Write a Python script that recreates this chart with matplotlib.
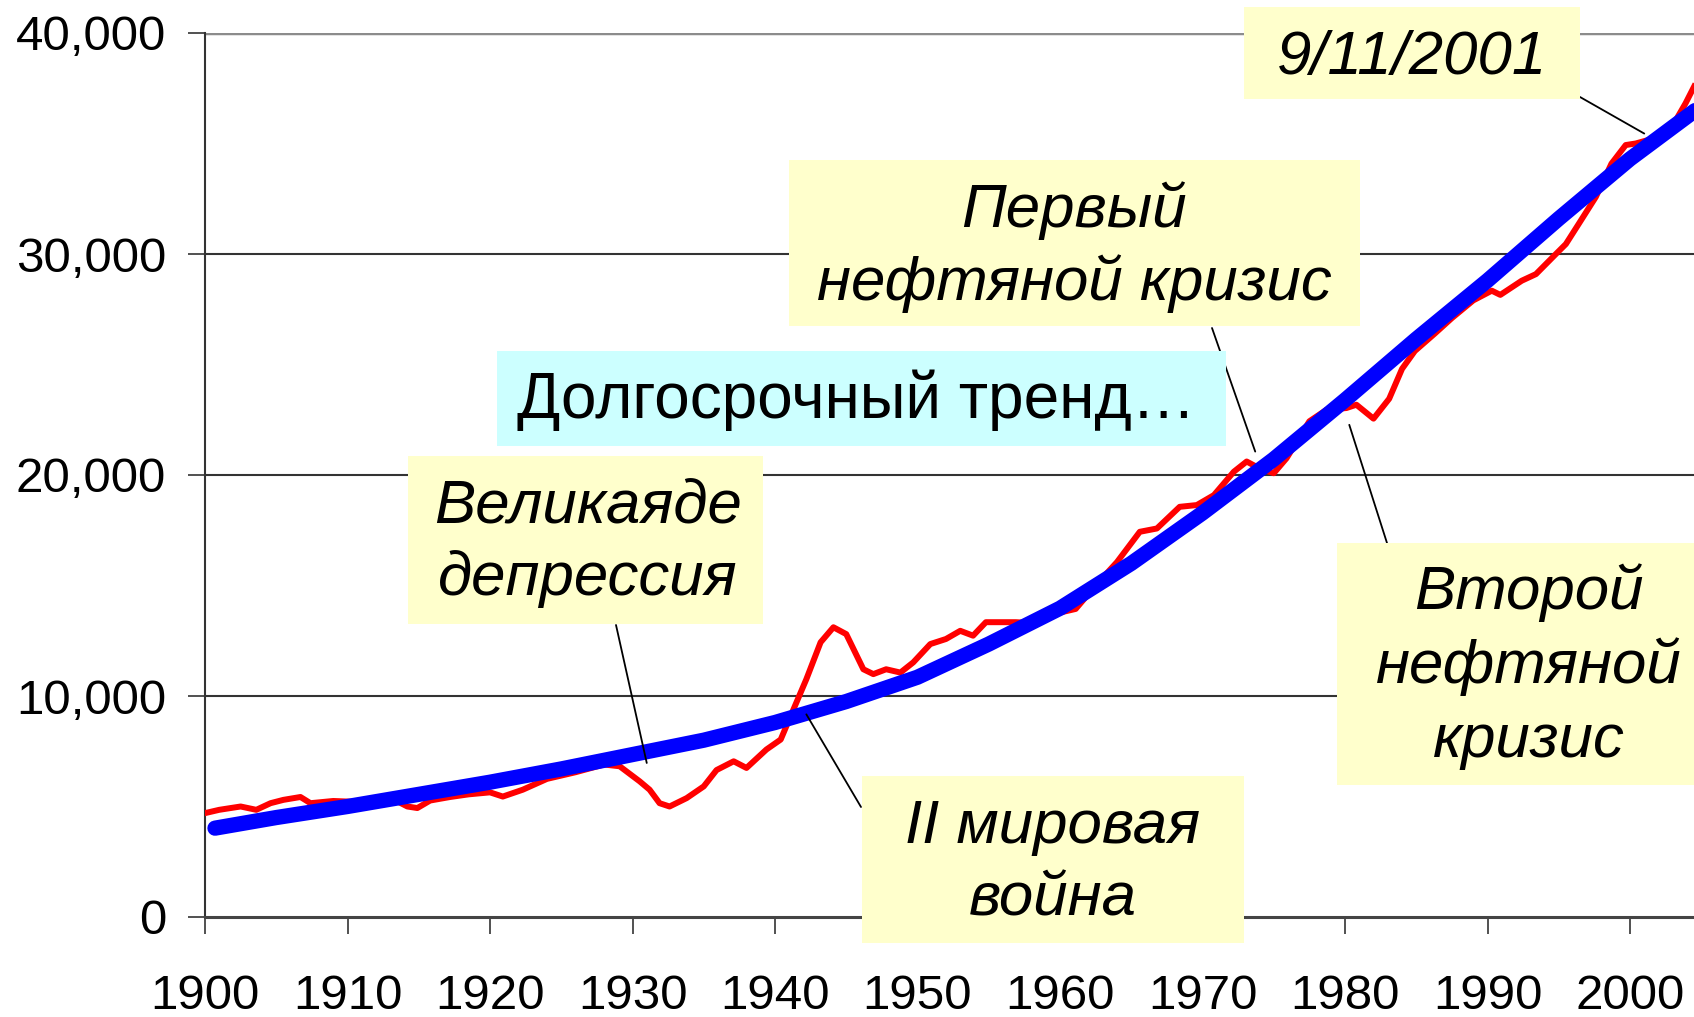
# GDP per capita chart with long-term trend and event annotations
import matplotlib
matplotlib.use("Agg")
import matplotlib.pyplot as plt
from matplotlib.patches import Rectangle
from matplotlib.ticker import FuncFormatter

W, H = 1694, 1017

# red series
gdp_years = [1900, 1901, 1902.5, 1903.6, 1904.6, 1905.5, 1906.7, 1907.4, 1909, 1911,
             1913, 1914.2, 1914.9, 1915.8, 1917.2, 1918.5, 1920, 1920.9, 1922.3, 1924,
             1926, 1928, 1929.1, 1930.5, 1931.2, 1931.9, 1932.6, 1933.8, 1935, 1935.9,
             1937.1, 1938, 1939.4, 1940.4, 1941.3, 1942.2, 1943.2, 1944.1, 1945, 1946.2,
             1946.9, 1947.8, 1948.8, 1949.7, 1950.9, 1952, 1953, 1953.9, 1954.8, 1956.9,
             1958, 1959.5, 1961.1, 1962.5, 1964, 1965.6, 1966.8, 1968.4, 1969.6, 1970.8,
             1972.2, 1973.1, 1974, 1975, 1975.9, 1977.5, 1978.7, 1980.1, 1980.8, 1982,
             1983.1, 1984, 1984.9, 1986.3, 1987.5, 1989, 1990.3, 1990.9, 1992.4, 1993.4,
             1994.8, 1995.5, 1996.4, 1997.6, 1998.7, 1999.7, 2000.4, 2001.5, 2002.9, 2003.9,
             2004.5]
gdp = [4700, 4850, 5000, 4850, 5150, 5300, 5430, 5150, 5250, 5200,
       5400, 5000, 4930, 5270, 5430, 5550, 5640, 5450, 5760, 6250,
       6550, 6900, 6820, 6140, 5760, 5150, 5000, 5380, 5910, 6650,
       7045, 6745, 7580, 8030, 9400, 10760, 12430, 13110, 12800, 11210,
       10990, 11210, 11060, 11520, 12350, 12580, 12950, 12730, 13340, 13340,
       13300, 13700, 13940, 15000, 16060, 17430, 17580, 18560, 18640, 19090,
       20150, 20610, 20300, 20080, 20760, 22430, 22950, 23030, 23180, 22550,
       23450, 24800, 25610, 26400, 27100, 27900, 28340, 28150, 28790, 29090,
       30000, 30450, 31360, 32580, 34090, 34930, 35000, 35200, 35700, 36820,
       37580]

# blue long-term trend
trend_years = [1900.7, 1905, 1910, 1915, 1920, 1925, 1930, 1935, 1940, 1945, 1950,
               1955, 1960, 1965, 1970, 1975, 1980, 1985, 1990, 1995, 2000, 2005]
trend = [4020, 4500, 5000, 5550, 6100, 6700, 7350, 8000, 8800, 9750, 10850,
         12350, 13970, 16000, 18280, 20715, 23390, 26150, 28800, 31600, 34300, 36700]

x_ticks = [1900, 1910, 1920, 1930, 1940, 1950, 1960, 1970, 1980, 1990, 2000]
y_ticks = [0, 10000, 20000, 30000, 40000]

# annotation texts and the points of the red line they point at
note_lines = [
    ["9/11/2001"],
    ["Первый", "нефтяной кризис"],
    ["Долгосрочный тренд…"],
    ["Великаяде", "депрессия"],
    ["II мировая", "война"],
    ["Второй", "нефтяной", "кризис"],
]
note_targets = [(2001.0, 35450), (1973.7, 21060), None, (1931.0, 6970),
                (1942.2, 9170), (1980.3, 22270)]

YELLOW = "#FFFFCC"
CYAN = "#CCFFFF"
FONT = "Liberation Sans"


def px(x, y):
    return x / W, 1 - y / H


def main():
    fig = plt.figure(figsize=(W / 100, H / 100), dpi=100)
    left, top, bottom = 205, 33, 917
    per_year = 14.25
    ax = fig.add_axes([left / W, (H - bottom) / H,
                       110 * per_year / W, (bottom - top) / H])

    ax.plot(gdp_years, gdp, color="#FF0000", lw=4.3, zorder=3)
    ax.plot(trend_years, trend, color="#0000FF", lw=11,
            solid_capstyle="round", solid_joinstyle="round", zorder=4)

    ax.set_xlim(1900, 2010)
    ax.set_ylim(0, 40000)
    ax.set_xticks(x_ticks)
    ax.set_yticks(y_ticks)
    ax.yaxis.set_major_formatter(FuncFormatter(lambda v, p: f"{v:,.0f}"))
    for lab in ax.get_xticklabels() + ax.get_yticklabels():
        lab.set_fontfamily(FONT)
        lab.set_fontsize(35.5)
    ax.tick_params(axis="both", direction="out", length=12, width=1.2,
                   colors="#333333", labelcolor="black")
    ax.tick_params(axis="x", pad=29)
    ax.tick_params(axis="y", pad=16)

    for v in y_ticks[1:-1]:
        ax.axhline(v, color="#333333", lw=1.5, zorder=1)
    ax.axhline(y_ticks[-1], color="#8c8c8c", lw=2.5, zorder=1)
    for side in ["top", "right"]:
        ax.spines[side].set_visible(False)
    ax.spines["left"].set_color("#333333")
    ax.spines["left"].set_linewidth(1.5)
    ax.spines["bottom"].set_color("#444444")
    ax.spines["bottom"].set_linewidth(2.2)

    # boxes: (x0, y0, x1, y1) in pixels, colour, italic, font size,
    # text centre x, baselines, leader anchor on the box
    layout = [
        ((1244, 7, 1580, 99), YELLOW, True, 44.5, 1412, [74], (1580, 97)),
        ((789, 160, 1360, 326), YELLOW, True, 44.5, 1074, [227, 300], (1212, 328)),
        ((497, 351, 1226, 446), CYAN, False, 46, 856, [418], None),
        ((408, 456, 763, 624), YELLOW, True, 44.5, 588, [523, 595], (616, 625)),
        ((862, 776, 1244, 943), YELLOW, True, 44.5, 1053, [843, 915], (861, 807)),
        ((1337, 543, 1700, 785), YELLOW, True, 44.5, 1529, [609, 683, 757], (1387, 543)),
    ]

    for lines, target, (box, color, italic, size, cx, bases, anchor) in zip(
            note_lines, note_targets, layout):
        x0, y0, x1, y1 = box
        fx, fy = px(x0, y1)
        fig.patches.append(Rectangle((fx, fy), (x1 - x0) / W, (y1 - y0) / H,
                                     transform=fig.transFigure, facecolor=color,
                                     edgecolor="none", zorder=5))
        for text, base in zip(lines, bases):
            tx, ty = px(cx, base)
            fig.text(tx, ty, text, ha="center", va="baseline", fontsize=size,
                     fontfamily=FONT, style="italic" if italic else "normal",
                     zorder=6)
        if target is not None:
            ax.annotate("", xy=target, xycoords="data",
                        xytext=px(*anchor), textcoords="figure fraction",
                        arrowprops=dict(arrowstyle="-", lw=1.3, color="black",
                                        shrinkA=0, shrinkB=0),
                        annotation_clip=False, zorder=7)

    fig.savefig("out.png", dpi=100)


if __name__ == "__main__":
    main()
